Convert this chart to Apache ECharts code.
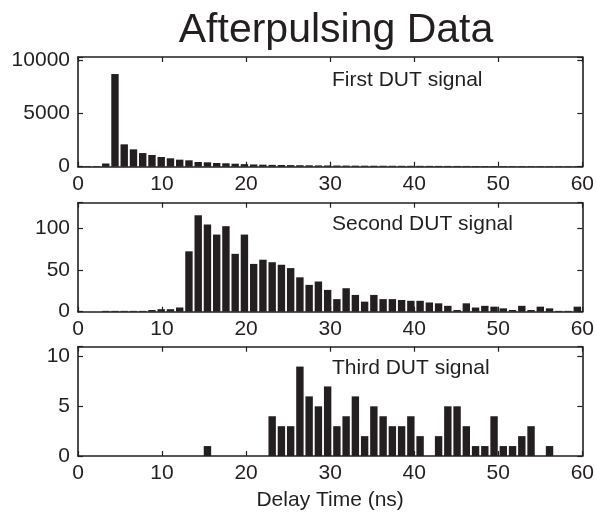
<!DOCTYPE html>
<html>
<head>
<meta charset="utf-8">
<script src="https://cdn.jsdelivr.net/npm/echarts@6/dist/echarts.min.js"></script>
<style>
html,body{margin:0;padding:0;background:#fff;}
#c{width:597px;height:519px;}
</style>
</head>
<body>
<div id="c"></div>
<script>
// Bin centres (ns)
const binCenters = [1.1, 2.2, 3.3, 4.4, 5.5, 6.6, 7.7, 8.8, 9.9, 11.0,
  12.1, 13.2, 14.3, 15.4, 16.5, 17.6, 18.7, 19.8, 20.9, 22.0,
  23.1, 24.2, 25.3, 26.4, 27.5, 28.6, 29.7, 30.8, 31.9, 33.0,
  34.1, 35.2, 36.3, 37.4, 38.5, 39.6, 40.7, 41.8, 42.9, 44.0,
  45.1, 46.2, 47.3, 48.4, 49.5, 50.6, 51.7, 52.8, 53.9, 55.0,
  56.1, 57.2, 58.3, 59.4];

const firstCounts = [60, 60, 300, 8700, 2100, 1630, 1280, 1100, 910, 790,
  660, 600, 440, 410, 350, 320, 280, 240, 210, 190,
  170, 160, 150, 140, 130, 120, 115, 110, 105, 100,
  95, 92, 90, 88, 85, 82, 80, 78, 76, 74,
  72, 70, 68, 66, 64, 62, 61, 60, 58, 57,
  56, 55, 54, 52];

const secondCounts = [0, 0, 1, 1, 1, 1, 1, 2, 3, 3,
  5, 72, 115, 104, 92, 102, 69, 92, 57, 62,
  59, 56, 52, 41, 32, 36, 26, 15, 28, 20,
  12, 20, 15, 15, 14, 13, 13, 11, 10, 7,
  2, 10, 5, 7, 6, 4, 2, 7, 2, 6,
  4, 1, 1, 6];

const thirdCounts = [0, 0, 0, 0, 0, 0, 0, 0, 0, 0,
  0, 0, 0, 1, 0, 0, 0, 0, 0, 0,
  4, 3, 3, 9, 6, 5, 7, 3, 4, 6,
  2, 5, 4, 3, 3, 4, 2, 0, 2, 5,
  5, 3, 1, 1, 4, 1, 1, 2, 3, 0,
  1, 0, 0, 0];

const panelLabels = ['First DUT signal', 'Second DUT signal', 'Third DUT signal'];
const yMax = [10300, 130, 11];
const yInterval = [5000, 50, 5];
const xTicks = [0, 10, 20, 30, 40, 50, 60];

const INK = '#231f20';
const FONT = '"Liberation Sans", Arial, Helvetica, sans-serif';
const FS = 21;

const grids = [
  {left: 78, right: 12.5, top: 57, height: 109.7},
  {left: 78, right: 12.5, top: 202.7, height: 109},
  {left: 78, right: 12.5, top: 346.7, height: 109.3}
];

const seriesData = [firstCounts, secondCounts, thirdCounts];

const xAxes = [], yAxes = [], series = [];
const axisLine = {show: true, onZero: false, lineStyle: {color: INK, width: 1.6}};
const tick = {show: true, inside: true, length: 5, lineStyle: {color: INK, width: 1.2}};
grids.forEach((g, i) => {
  xAxes.push({
    type: 'value', gridIndex: i, position: 'bottom', min: xTicks[0], max: xTicks[xTicks.length - 1], interval: 10,
    axisLine: axisLine, axisTick: tick,
    axisLabel: {show: true, color: INK, fontSize: FS, fontFamily: FONT, margin: 7},
    splitLine: {show: false},
    name: i === 2 ? 'Delay Time (ns)' : '',
    nameLocation: 'middle', nameGap: 34,
    nameTextStyle: {color: INK, fontSize: FS, fontFamily: FONT}
  });
  xAxes.push({
    type: 'value', gridIndex: i, position: 'top', min: 0, max: 60, interval: 10,
    axisLine: axisLine, axisTick: tick,
    axisLabel: {show: false}, splitLine: {show: false}
  });
  yAxes.push({
    type: 'value', gridIndex: i, position: 'left', min: 0, max: yMax[i], interval: yInterval[i],
    axisLine: axisLine, axisTick: tick,
    axisLabel: {show: true, color: INK, fontSize: FS, fontFamily: FONT, margin: 8,
      formatter: v => (v % yInterval[i] === 0 ? String(v) : '')},
    splitLine: {show: false}
  });
  yAxes.push({
    type: 'value', gridIndex: i, position: 'right', min: 0, max: yMax[i], interval: yInterval[i],
    axisLine: axisLine, axisTick: tick,
    axisLabel: {show: false}, splitLine: {show: false}
  });
  series.push({
    type: 'bar', xAxisIndex: i * 2, yAxisIndex: i * 2,
    data: binCenters.map((x, j) => [x, seriesData[i][j]]),
    barWidth: 7.4,
    itemStyle: {color: INK},
    silent: true, animation: false
  });
});

const chart = echarts.init(document.getElementById('c'), null, {renderer: 'canvas'});
chart.setOption({
  backgroundColor: '#fff',
  animation: false,
  title: {
    text: 'Afterpulsing Data', left: 331, top: 5, textAlign: 'center',
    textStyle: {color: INK, fontSize: 41, fontWeight: 'normal', fontFamily: FONT}
  },
  grid: grids,
  xAxis: xAxes,
  yAxis: yAxes,
  series: series,
  graphic: [
    {type: 'text', left: 332, top: 70, style: {text: panelLabels[0], fill: INK, fontSize: FS, fontFamily: FONT}},
    {type: 'text', left: 332, top: 214, style: {text: panelLabels[1], fill: INK, fontSize: FS, fontFamily: FONT}},
    {type: 'text', left: 332, top: 358, style: {text: panelLabels[2], fill: INK, fontSize: FS, fontFamily: FONT}}
  ]
});
</script>
</body>
</html>
